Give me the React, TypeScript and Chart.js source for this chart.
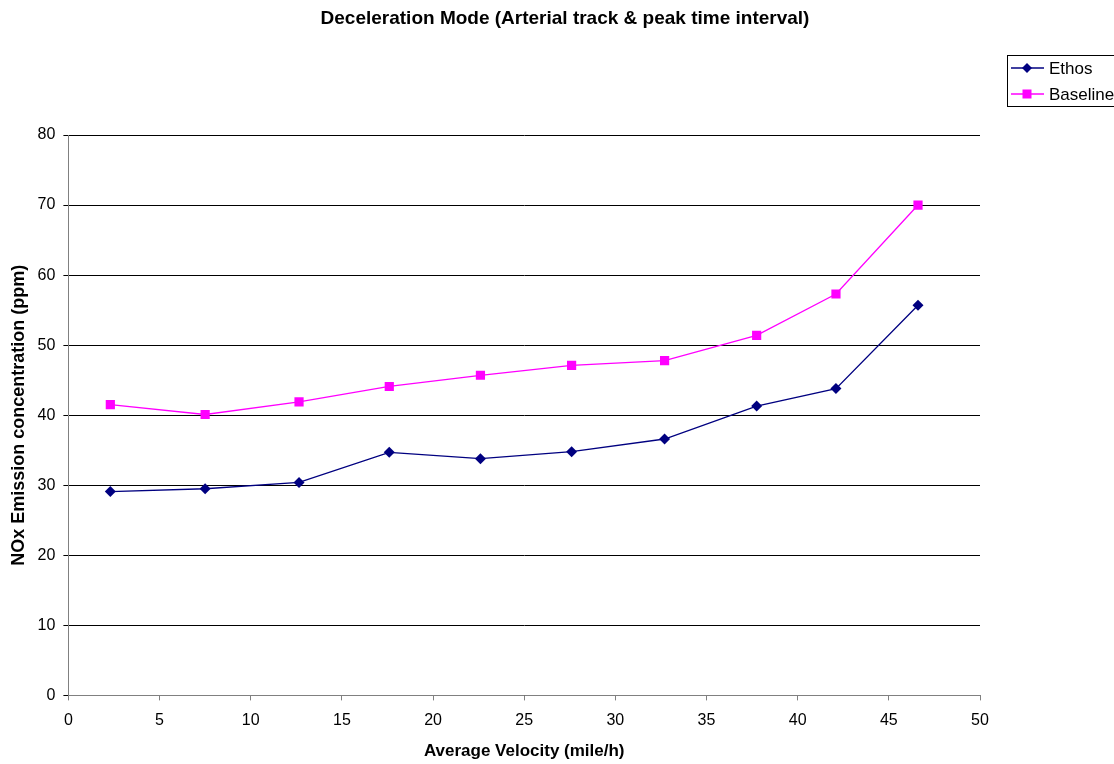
import React, { useEffect, useRef } from "react";
import { Chart, registerables } from "chart.js";

Chart.register(...registerables);

const chartTitle = "Deceleration Mode (Arterial track & peak time interval)";
const xTitle = "Average Velocity (mile/h)";
const yTitle = "NOx Emission concentration (ppm)";
const velocity = [2.3, 7.5, 12.65, 17.6, 22.6, 27.6, 32.7, 37.75, 42.1, 46.6];
const ethos = [29.1, 29.5, 30.4, 34.7, 33.8, 34.8, 36.6, 41.3, 43.8, 55.7];
const baseline = [41.5, 40.1, 41.9, 44.1, 45.7, 47.1, 47.8, 51.4, 57.3, 70.0];
const seriesNames = ["Ethos", "Baseline"];
const seriesColors = ["#000080", "#FF00FF"];
const seriesMarkers = ["rectRot", "rect"];
const seriesRadius = [5.5, 6.5];

const FONT = "'Liberation Sans', Arial, sans-serif";

const overlayPlugin = {
  id: "overlay",
  afterDraw(chart: any) {
    const ctx = chart.ctx;
    ctx.save();
    // title
    ctx.font = `bold 19px ${FONT}`;
    ctx.fillStyle = "#000";
    ctx.textAlign = "center";
    ctx.textBaseline = "middle";
    ctx.fillText(chartTitle, 565, 19);
    // legend
    const lx = 1007, ly = 55, lw = 110, lh = 51;
    ctx.strokeStyle = "#000";
    ctx.lineWidth = 1;
    ctx.strokeRect(lx + 0.5, ly + 0.5, lw, lh);
    ctx.font = `17px ${FONT}`;
    ctx.textAlign = "left";
    seriesNames.forEach((name, i) => {
      const y = ly + 13 + i * 26;
      ctx.strokeStyle = seriesColors[i];
      ctx.lineWidth = 1.3;
      ctx.beginPath();
      ctx.moveTo(lx + 4, y);
      ctx.lineTo(lx + 37, y);
      ctx.stroke();
      ctx.fillStyle = seriesColors[i];
      const cx = lx + 20;
      if (seriesMarkers[i] === "rectRot") {
        ctx.beginPath();
        ctx.moveTo(cx, y - 5);
        ctx.lineTo(cx + 5, y);
        ctx.lineTo(cx, y + 5);
        ctx.lineTo(cx - 5, y);
        ctx.closePath();
        ctx.fill();
      } else {
        ctx.fillRect(cx - 4.5, y - 4.5, 9, 9);
      }
      ctx.fillStyle = "#000";
      ctx.fillText(name, lx + 42, y + 1);
    });
    ctx.restore();
  },
};

export default function App() {
  const ref = useRef<HTMLCanvasElement | null>(null);
  useEffect(() => {
    if (!ref.current) return;
    const chart = new Chart(ref.current, {
      type: "line",
      data: {
        datasets: [0, 1].map((i) => ({
          label: seriesNames[i],
          data: velocity.map((x, j) => ({ x, y: (i === 0 ? ethos : baseline)[j] })),
          borderColor: seriesColors[i],
          backgroundColor: seriesColors[i],
          borderWidth: 1.3,
          pointStyle: seriesMarkers[i] as any,
          pointRadius: seriesRadius[i],
          pointBorderWidth: 0,
          tension: 0,
        })),
      },
      options: {
        animation: false,
        responsive: false,
        layout: { padding: { left: 8, right: 134, top: 135, bottom: 2 } },
        plugins: {
          legend: { display: false },
          title: { display: false },
          tooltip: { enabled: false },
        },
        scales: {
          x: {
            type: "linear",
            min: 0,
            max: 50,
            ticks: { stepSize: 5, color: "#000", font: { family: FONT, size: 16 }, padding: 11 },
            grid: { drawOnChartArea: false, drawTicks: true, tickLength: 5, color: "#808080" },
            border: { color: "#808080", width: 1 },
            title: { display: true, text: xTitle, color: "#000", font: { family: FONT, size: 17, weight: "bold" }, padding: { top: 0, bottom: 0 } },
          },
          y: {
            min: 0,
            max: 80,
            ticks: { stepSize: 10, color: "#000", font: { family: FONT, size: 16 }, padding: 8 },
            grid: { color: "#000", tickLength: 5, lineWidth: 1 },
            border: { color: "#808080", width: 1 },
            title: { display: true, text: yTitle, color: "#000", font: { family: FONT, size: 18, weight: "bold" }, padding: { top: 0, bottom: 0 } },
          },
        },
      },
      plugins: [overlayPlugin],
    });
    return () => chart.destroy();
  }, []);
  return (
    <div style={{ position: "absolute", left: 0, top: 0, width: 1114, height: 764, background: "#fff" }}>
      <canvas ref={ref} width={1114} height={764} style={{ display: "block" }} />
    </div>
  );
}
